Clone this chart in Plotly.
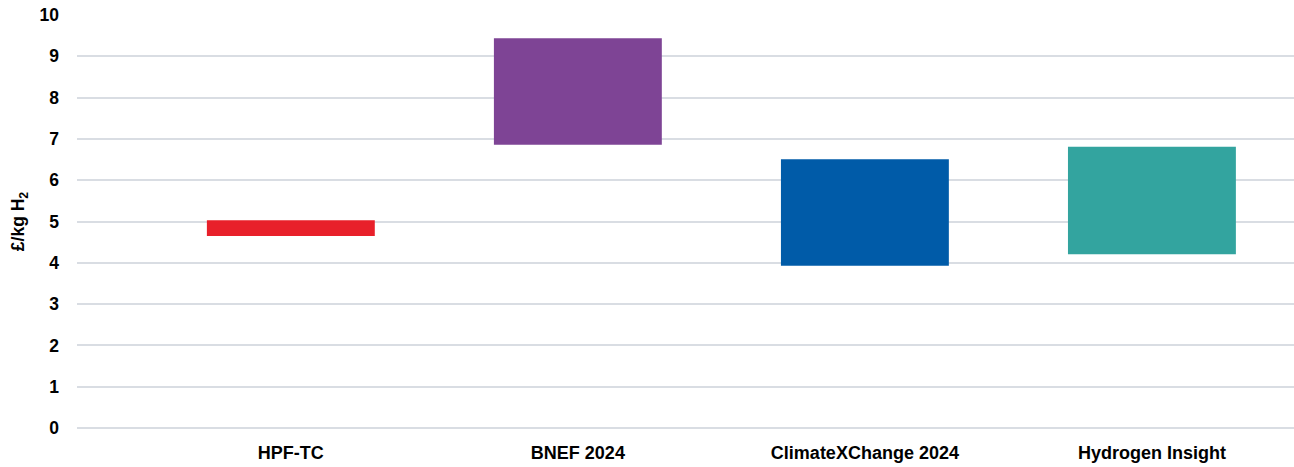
import plotly.graph_objects as go

categories = ["HPF-TC", "BNEF 2024", "ClimateXChange 2024", "Hydrogen Insight"]
low_values = [4.65, 6.86, 3.93, 4.21]
high_values = [5.03, 9.44, 6.51, 6.81]
colors = ["#E8202A", "#7E4495", "#005BA8", "#33A49F"]

fig = go.Figure()
fig.add_trace(go.Bar(
    x=list(range(len(categories))),
    base=low_values,
    y=[h - l for h, l in zip(high_values, low_values)],
    marker=dict(color=colors, line=dict(width=0)),
    width=0.585,
    hoverinfo="skip",
))

fig.update_layout(
    width=1294, height=467,
    margin=dict(l=77, r=0, t=15, b=39),
    paper_bgcolor="white", plot_bgcolor="white",
    showlegend=False,
    font=dict(family="Liberation Sans, Arial, sans-serif", color="#000000"),
    xaxis=dict(
        tickmode="array",
        tickvals=list(range(len(categories))),
        ticktext=[f"<b>{c}</b>" for c in categories],
        range=[-0.745, 3.495],
        showgrid=False, zeroline=False, showline=False,
        ticks="", tickfont=dict(size=18),
        ticklabelstandoff=12,
    ),
    yaxis=dict(
        range=[0, 10],
        tickmode="linear", tick0=0, dtick=1,
        showgrid=True, gridcolor="#D9DDE3", gridwidth=1.5,
        zeroline=True, zerolinecolor="#D9DDE3", zerolinewidth=1.5,
        showline=False, ticks="",
        tickfont=dict(size=17.5),
        tickprefix="<b>", ticksuffix="</b>",
        ticklabelstandoff=17,
        title=dict(text="<b>£/kg H<sub>2</sub></b>", font=dict(size=17.5), standoff=10),
    ),
)

fig.write_html("out.html")
